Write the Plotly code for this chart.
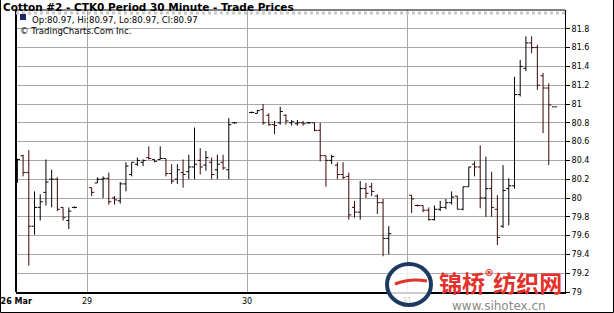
import plotly.graph_objects as go

# ---------------- data ----------------
SESSION_LABELS = ["26 Mar", "29", "30", "31"]
SLOTS_PER_SESSION = 28            # 30-minute slots per session on the time axis
SESSION_FIRST_SLOT = [15, 0, 0, 0]
SESSION_BAR_COUNT = [11, 26, 25, 26]

open_ = [
    80.30, 80.45, 80.27, 79.70, 79.90, 80.06, 80.20, 80.20, 79.90, 79.76, 79.90,
    80.11, 80.16, 80.20, 80.21, 80.00, 79.97, 80.15, 80.25, 80.36, 80.38, 80.43, 80.41, 80.41,
    80.42, 80.26, 80.20, 80.27, 80.28, 80.33, 80.40, 80.35, 80.38, 80.30, 80.38, 80.30, 80.80,
    80.91, 80.90, 80.94, 80.88, 80.78, 80.80, 80.88, 80.80, 80.79, 80.80, 80.80, 80.80, 80.72,
    80.45, 80.40, 80.35, 80.25, 80.23, 79.90, 79.85, 80.10, 80.12, 80.02, 79.95, 79.57,
    80.03, 79.92, 79.92, 79.87, 79.77, 79.88, 79.90, 79.95, 80.02, 79.88, 80.12, 80.36, 80.33,
    80.00, 80.10, 79.88, 79.70, 80.10, 80.13, 81.10, 81.38, 81.65, 81.60, 81.30, 81.17, 80.97,
]
high = [
    80.42, 80.46, 80.51, 80.07, 80.04, 80.41, 80.30, 80.22, 79.90, 79.90, 79.91,
    80.11, 80.22, 80.23, 80.27, 80.02, 80.17, 80.38, 80.38, 80.43, 80.41, 80.55, 80.41, 80.55,
    80.42, 80.36, 80.36, 80.41, 80.46, 80.75, 80.53, 80.50, 80.43, 80.46, 80.46, 80.85, 80.81,
    80.92, 80.94, 81.00, 80.90, 80.82, 80.97, 80.89, 80.83, 80.83, 80.82, 80.81, 80.80, 80.80,
    80.45, 80.46, 80.38, 80.38, 80.27, 79.97, 80.18, 80.16, 80.16, 80.04, 79.99, 79.70,
    80.03, 79.93, 79.92, 79.90, 79.92, 79.97, 79.99, 80.07, 80.02, 80.12, 80.33, 80.39, 80.56,
    80.44, 80.28, 80.03, 80.35, 80.21, 81.29, 81.47, 81.72, 81.72, 81.63, 81.33, 81.22, 80.97,
]
low = [
    80.16, 80.23, 79.28, 79.61, 79.76, 79.92, 79.90, 79.86, 79.76, 79.67, 79.89,
    80.02, 80.16, 80.00, 79.93, 79.93, 79.94, 80.07, 80.23, 80.34, 80.34, 80.41, 80.38, 80.41,
    80.23, 80.15, 80.15, 80.11, 80.20, 80.20, 80.25, 80.29, 80.20, 80.20, 80.30, 80.20, 80.79,
    80.90, 80.90, 80.78, 80.77, 80.68, 80.78, 80.78, 80.77, 80.77, 80.77, 80.79, 80.71, 80.39,
    80.12, 80.36, 80.20, 80.20, 79.77, 79.79, 79.77, 80.00, 80.02, 79.83, 79.38, 79.40,
    79.84, 79.91, 79.85, 79.76, 79.76, 79.86, 79.88, 79.93, 79.88, 79.87, 80.12, 80.23, 79.89,
    79.80, 79.80, 79.50, 79.68, 79.71, 80.10, 81.08, 81.35, 81.54, 81.15, 80.69, 80.35, 80.97,
]
close = [
    80.41, 80.27, 79.70, 79.90, 79.96, 80.17, 80.20, 79.88, 79.79, 79.86, 79.90,
    80.06, 80.20, 80.21, 79.96, 79.98, 80.15, 80.34, 80.38, 80.40, 80.40, 80.42, 80.39, 80.42,
    80.26, 80.18, 80.30, 80.25, 80.33, 80.36, 80.33, 80.43, 80.25, 80.36, 80.32, 80.78, 80.80,
    80.91, 80.93, 80.80, 80.78, 80.77, 80.92, 80.82, 80.81, 80.80, 80.79, 80.80, 80.72, 80.45,
    80.40, 80.44, 80.25, 80.22, 79.82, 79.85, 80.10, 80.05, 80.07, 79.95, 79.57, 79.62,
    79.99, 79.92, 79.87, 79.77, 79.88, 79.90, 79.95, 80.01, 79.88, 80.12, 80.33, 80.33, 80.00,
    80.10, 79.90, 79.58, 80.08, 80.13, 81.10, 81.40, 81.65, 81.60, 81.20, 81.17, 80.99, 80.97,
]
Y_TICKS = [79.0, 79.2, 79.4, 79.6, 79.8, 80.0, 80.2, 80.4, 80.6, 80.8, 81.0, 81.2, 81.4, 81.6, 81.8]

# time slot of every bar
slots = []
for d, (first, n) in enumerate(zip(SESSION_FIRST_SLOT, SESSION_BAR_COUNT)):
    slots += [d * SLOTS_PER_SESSION + first + j for j in range(n)]

# ---------------- layout geometry ----------------
W, H = 614, 313
ML, MR, MT, MB = 16, 49, 10, 21
PW, PH = W - ML - MR, H - MT - MB
OPEN_OFFSET = 0.8
X_RANGE = [14.76, 14.76 + PW / 5.714]
Y_RANGE = [79.0, 82.0]


def px(x):
    return (x - ML) / PW


def py(y):
    return (H - MB - y) / PH


tickvals = [X_RANGE[0] + 0.04] + [d * SLOTS_PER_SESSION - OPEN_OFFSET for d in range(1, 4)]
ticktext = ["<b>" + SESSION_LABELS[0] + "</b>"] + SESSION_LABELS[1:]

fig = go.Figure(go.Ohlc(
    x=slots, open=open_, high=high, low=low, close=close,
    increasing=dict(line=dict(color="#000000", width=1)),
    decreasing=dict(line=dict(color="#3c0606", width=1)),
    tickwidth=0.45, hoverinfo="skip", showlegend=False,
))

fig.update_layout(
    width=W, height=H,
    margin=dict(l=ML, r=MR, t=MT, b=MB, pad=0, autoexpand=False),
    paper_bgcolor="white", plot_bgcolor="white",
    font=dict(family="DejaVu Sans", size=8, color="black"),
    showlegend=False,
    xaxis=dict(
        range=X_RANGE, rangeslider=dict(visible=False), automargin=False,
        tickmode="array", tickvals=tickvals, ticktext=ticktext,
        showgrid=True, gridcolor="#a8a8a8", gridwidth=1,
        showline=True, linecolor="black", linewidth=2,
        ticks="", zeroline=False, tickfont=dict(size=8),
    ),
    yaxis=dict(
        range=Y_RANGE, side="right", automargin=False,
        tickmode="array", tickvals=Y_TICKS,
        ticktext=[("%g" % v) for v in Y_TICKS],
        showgrid=True, gridcolor="#a8a8a8", gridwidth=1,
        showline=True, linecolor="black", linewidth=1,
        ticks="outside", ticklen=4, tickcolor="black",
        zeroline=False, tickfont=dict(size=8),
    ),
)

shapes = [
    # left and top frame of the plot
    dict(type="line", xref="paper", yref="paper", x0=0, x1=0, y0=0, y1=1,
         line=dict(color="black", width=2)),
    dict(type="line", xref="paper", yref="paper", x0=0, x1=1, y0=1, y1=1,
         line=dict(color="black", width=1)),
    # dotted top grid line
    dict(type="line", xref="paper", yref="paper", x0=0, x1=1, y0=py(13), y1=py(13),
         line=dict(color="#c8c8c8", width=3, dash="dot")),
    # outer frame
    dict(type="line", xref="paper", yref="paper", x0=px(0.5), x1=px(0.5), y0=py(312.5), y1=py(0),
         line=dict(color="black", width=1)),
    dict(type="line", xref="paper", yref="paper", x0=px(0.5), x1=px(613.5), y0=py(312.5), y1=py(312.5),
         line=dict(color="black", width=1)),
    dict(type="line", xref="paper", yref="paper", x0=px(613.5), x1=px(613.5), y0=py(312.5), y1=py(0),
         line=dict(color="black", width=1)),
    # legend swatch
    dict(type="rect", xref="paper", yref="paper", x0=px(20), x1=px(26), y0=py(20), y1=py(14),
         fillcolor="#1c2a6b", line=dict(width=0)),
    # watermark logo
    dict(type="circle", xref="paper", yref="paper", x0=px(387), x1=px(431), y0=py(305), y1=py(264),
         fillcolor="rgba(255,255,255,0.8)", line=dict(color="#1d3a63", width=4), layer="above"),
    dict(type="path", xref="paper", yref="paper",
         path=f"M {px(395)} {py(284)} Q {px(410)} {py(278)} {px(427)} {py(281)}",
         line=dict(color="#e4312b", width=3), layer="above"),
]
fig.update_layout(shapes=shapes)

annotations = [
    dict(text="<b>Cotton #2 - CTK0 Period 30 Minute - Trade Prices</b>",
         xref="paper", yref="paper", x=px(2), y=py(0), xanchor="left", yanchor="top",
         borderpad=0, showarrow=False, font=dict(size=10.5, family="DejaVu Sans")),
    dict(text=f"Op:{open_[-1]:.2f}, Hi:{high[-1]:.2f}, Lo:{low[-1]:.2f}, Cl:{close[-1]:.2f}",
         xref="paper", yref="paper", x=px(31), y=py(14), xanchor="left", yanchor="top",
         borderpad=0, showarrow=False, font=dict(size=8.6)),
    dict(text="© TradingCharts.Com Inc.",
         xref="paper", yref="paper", x=px(19), y=py(25), xanchor="left", yanchor="top",
         borderpad=0, showarrow=False, font=dict(size=8.6)),
    dict(text="<b>锦桥<sup>®</sup>纺织网</b>",
         xref="paper", yref="paper", x=px(437), y=py(281), xanchor="left", yanchor="middle",
         showarrow=False, font=dict(size=23, family="Noto Sans CJK SC", color="#e4312b")),
    dict(text="www.sihotex.cn",
         xref="paper", yref="paper", x=px(499), y=py(305.5), xanchor="center", yanchor="middle",
         showarrow=False, font=dict(size=12, family="DejaVu Sans", color="#8a8a8a")),
]
fig.update_layout(annotations=annotations)

fig.write_html("out.html")
